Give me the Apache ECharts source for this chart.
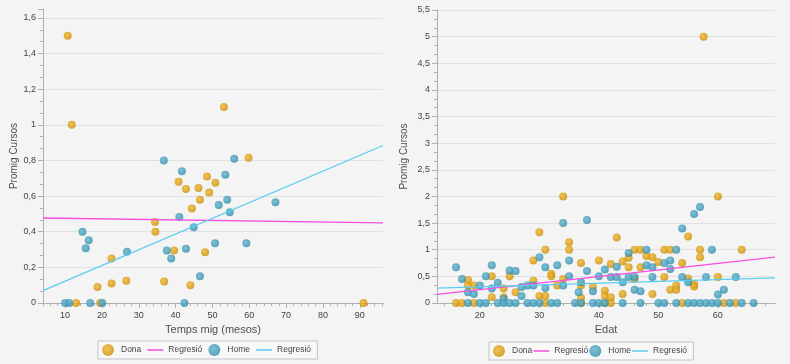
<!DOCTYPE html>
<html><head><meta charset="utf-8">
<script src="https://cdn.jsdelivr.net/npm/echarts@6/dist/echarts.min.js"></script>
<style>html,body{margin:0;padding:0;background:#f4f4f4}#c{width:790px;height:364px}</style>
</head><body><div id="c"></div>
<script>
// ---- data ----
const legendNames = ['Dona', 'Regresió', 'Home', 'Regresió '];
const leftXTicks = [10, 20, 30, 40, 50, 60, 70, 80, 90];
const rightXTicks = [20, 30, 40, 50, 60];
const leftXRange = [4, 96.3];
const rightXRange = [12.8, 69.6];

const leftDona = [[10.7,1.5],[11.8,1.0],[13.0,0],[18.8,0.09],[19.5,0],[22.6,0.25],[22.6,0.11],[26.6,0.125],
  [34.4,0.455],[34.5,0.40],[36.9,0.12],[39.6,0.295],[40.8,0.68],[42.8,0.64],[44.0,0.10],[44.4,0.53],
  [46.2,0.645],[46.6,0.58],[48.0,0.285],[48.5,0.71],[49.1,0.62],[50.8,0.675],[53.1,1.10],[59.8,0.815],[91.0,0]];
const leftHome = [[10.0,0],[11.1,0],[14.7,0.40],[15.6,0.307],[16.4,0.352],[16.8,0],[20.1,0],[26.8,0.287],
  [36.8,0.80],[37.6,0.295],[38.8,0.25],[41.0,0.483],[41.7,0.74],[42.4,0],[42.8,0.305],[44.9,0.425],
  [46.6,0.15],[50.7,0.335],[51.7,0.55],[53.5,0.72],[54.0,0.58],[54.7,0.51],[55.9,0.81],[59.2,0.335],[67.1,0.565]];
const leftRegDona = [[4,0.477],[96.3,0.45]];
const leftRegHome = [[4,0.07],[96.3,0.884]];

const rightDona = [[34,2.0],[30,1.33],[31,1.0],[35,1.14],[35,1.0],[29,0.8],[37,0.75],[40,0.8],[22,0.5],[25,0.5],
  [32,0.55],[32,0.5],[18,0.43],[34,0.45],[29,0.42],[18,0.33],[19,0.33],[37,0.33],[33,0.33],[39,0.3],[24,0.27],
  [41,0.23],[26,0.2],[22,0.11],[24,0.11],[30,0.13],[31,0.13],[37,0.1],[41,0.13],
  [16,0],[17,0],[19,0],[31,0],[37,0],[41,0],[42,0],[54,0],[61,0],[63,0],
  [60,2.0],[43,1.23],[55,1.25],[46,1.0],[47,1.0],[51,1.0],[52,1.0],[57,1.0],[64,1.0],[57,0.86],[48,0.88],
  [49,0.86],[45,0.85],[44,0.78],[42,0.73],[45,0.67],[47,0.67],[50,0.77],[54,0.75],[51,0.49],[60,0.49],
  [55,0.46],[46,0.45],[56,0.35],[56,0.31],[52,0.25],[53,0.33],[53,0.25],[42,0.11],[44,0.17],[49,0.17],[57.6,5.0]];
const rightHome = [[34,1.5],[38,1.56],[30,0.86],[31,0.67],[33,0.71],[35,0.8],[38,0.6],[41,0.63],[16,0.67],
  [17,0.45],[22,0.71],[21,0.5],[25,0.61],[26,0.6],[40,0.5],[35,0.5],[20,0.33],[18,0.2],[19,0.17],[23,0.38],
  [22,0.27],[27,0.3],[28,0.33],[29,0.33],[31,0.28],[34,0.33],[37,0.39],[39,0.22],[36.6,0.2],[27,0.13],[24,0.08],
  [18,0],[20,0],[21,0],[23,0],[24,0],[25,0],[26,0],[28,0],[29,0],[30,0],[32,0],[33,0],[36,0],[37,0],[39,0],
  [40,0],[41,0],[44,0],[47,0],[50,0],[51,0],[53,0],[55,0],[56,0],[57,0],[58,0],[59,0],[60,0],[62,0],[64,0],[66,0],
  [57,1.8],[56,1.67],[54,1.4],[45,0.94],[48,1.0],[53,1.0],[59,1.0],[43,0.68],[48,0.71],[49,0.67],[51,0.75],
  [52,0.8],[52,0.64],[42,0.49],[43,0.49],[45,0.49],[46,0.49],[49,0.49],[54,0.49],[58,0.49],[63,0.49],
  [44,0.39],[55,0.39],[46,0.25],[47,0.22],[61,0.25],[60,0.16]];
const rightRegDona = [[12.8,0.16],[69.6,0.86]];
const rightRegHome = [[12.8,0.28],[69.6,0.47]];

// ---- style ----
const PINK = '#f54ee0', CYAN = '#5ccdf2';
const FONT = 'Liberation Sans';
const AXIS = '#b0b0b0';
const LINE_ICON = 'path://M0,0L32,0L32,3L0,3Z';
function ball(c1, c2) {
  return { type: 'radial', x: 0.4, y: 0.4, r: 0.65, colorStops: [{ offset: 0, color: c1 }, { offset: 1, color: c2 }] };
}
function minorList(range, step) {
  const out = [];
  for (let v = Math.ceil(range[0] / step) * step; v <= range[1]; v += step) out.push(v);
  return out;
}
const fmt = v => String(Math.round(v * 100) / 100).replace('.', ',');

function xAxes(grid, range, ticks, name) {
  return [
    { type: 'value', gridIndex: grid, min: range[0], max: range[1], position: 'bottom',
      axisLine: { lineStyle: { color: AXIS } }, splitLine: { show: false },
      axisLabel: { show: false },
      axisTick: { customValues: minorList(range, 2), length: 3, lineStyle: { color: AXIS } } },
    { type: 'value', gridIndex: grid, min: range[0], max: range[1], position: 'bottom',
      name: name, nameLocation: 'middle', nameGap: 21,
      nameTextStyle: { fontFamily: FONT, fontSize: 11, color: '#505050' },
      axisLine: { lineStyle: { color: AXIS } }, splitLine: { show: false },
      axisLabel: { customValues: ticks, fontFamily: FONT, fontSize: 9, color: '#444', margin: 8 },
      axisTick: { customValues: ticks, length: 5, lineStyle: { color: AXIS } } }
  ];
}
function yAxis(grid, max, interval, nameGap) {
  return { type: 'value', gridIndex: grid, min: 0, max: max, interval: interval,
    name: 'Promig Cursos', nameLocation: 'middle', nameGap: nameGap,
    nameTextStyle: { fontFamily: FONT, fontSize: 10, color: '#505050' },
    axisLine: { show: true, lineStyle: { color: AXIS } },
    axisTick: { show: true, length: 5, lineStyle: { color: AXIS } },
    minorTick: { show: true, splitNumber: 3, length: 3, lineStyle: { color: AXIS } },
    splitLine: { show: true, showMaxLine: max % interval === 0, lineStyle: { color: '#e1e1e1' } },
    axisLabel: { fontFamily: FONT, fontSize: 9, color: '#444', margin: 7, showMaxLabel: max % interval === 0,
      formatter: fmt } };
}
function scatter(name, data, xi, yi, c1, c2) {
  return { name, type: 'scatter', data, xAxisIndex: xi, yAxisIndex: yi, symbolSize: 8,
    itemStyle: { color: ball(c1, c2) }, emphasis: { disabled: true } };
}
function reg(name, data, xi, yi, color) {
  return { name, type: 'line', data, xAxisIndex: xi, yAxisIndex: yi, symbol: 'none',
    lineStyle: { color, width: 1.3 }, itemStyle: { color }, emphasis: { disabled: true } };
}
function legend(left, top, gap) {
  return { left, top, orient: 'horizontal', itemWidth: 16, itemHeight: 12, itemGap: gap,
    padding: [3, 4], borderColor: '#c4c4c4', borderWidth: 1, backgroundColor: '#f8f8f8',
    textStyle: { fontFamily: FONT, fontSize: 8.5, color: '#444' },
    data: [{ name: legendNames[0], icon: 'circle' }, { name: legendNames[1], icon: LINE_ICON },
           { name: legendNames[2], icon: 'circle' }, { name: legendNames[3], icon: LINE_ICON }] };
}

const chart = echarts.init(document.getElementById('c'), null, { renderer: 'canvas' });
chart.setOption({
  animation: false,
  backgroundColor: '#f4f4f4',
  grid: [
    { left: 43, top: 9, width: 340, height: 294, outerBoundsMode: 'none' },
    { left: 437, top: 10, width: 338, height: 293, outerBoundsMode: 'none' }
  ],
  xAxis: [...xAxes(0, leftXRange, leftXTicks, 'Temps mig (mesos)'), ...xAxes(1, rightXRange, rightXTicks, 'Edat')],
  yAxis: [yAxis(0, 1.65, 0.2, 24), yAxis(1, 5.5, 0.5, 28)],
  legend: [legend(98, 341, 6), legend(489, 342, 1)],
  series: [
    scatter(legendNames[0], leftDona, 1, 0, '#f0b52c', '#c98c00'),
    reg(legendNames[1], leftRegDona, 1, 0, PINK),
    scatter(legendNames[2], leftHome, 1, 0, '#5db4d0', '#2f8aa8'),
    reg(legendNames[3], leftRegHome, 1, 0, CYAN),
    scatter(legendNames[0], rightDona, 3, 1, '#f0b52c', '#c98c00'),
    reg(legendNames[1], rightRegDona, 3, 1, PINK),
    scatter(legendNames[2], rightHome, 3, 1, '#5db4d0', '#2f8aa8'),
    reg(legendNames[3], rightRegHome, 3, 1, CYAN)
  ]
});
</script></body></html>
